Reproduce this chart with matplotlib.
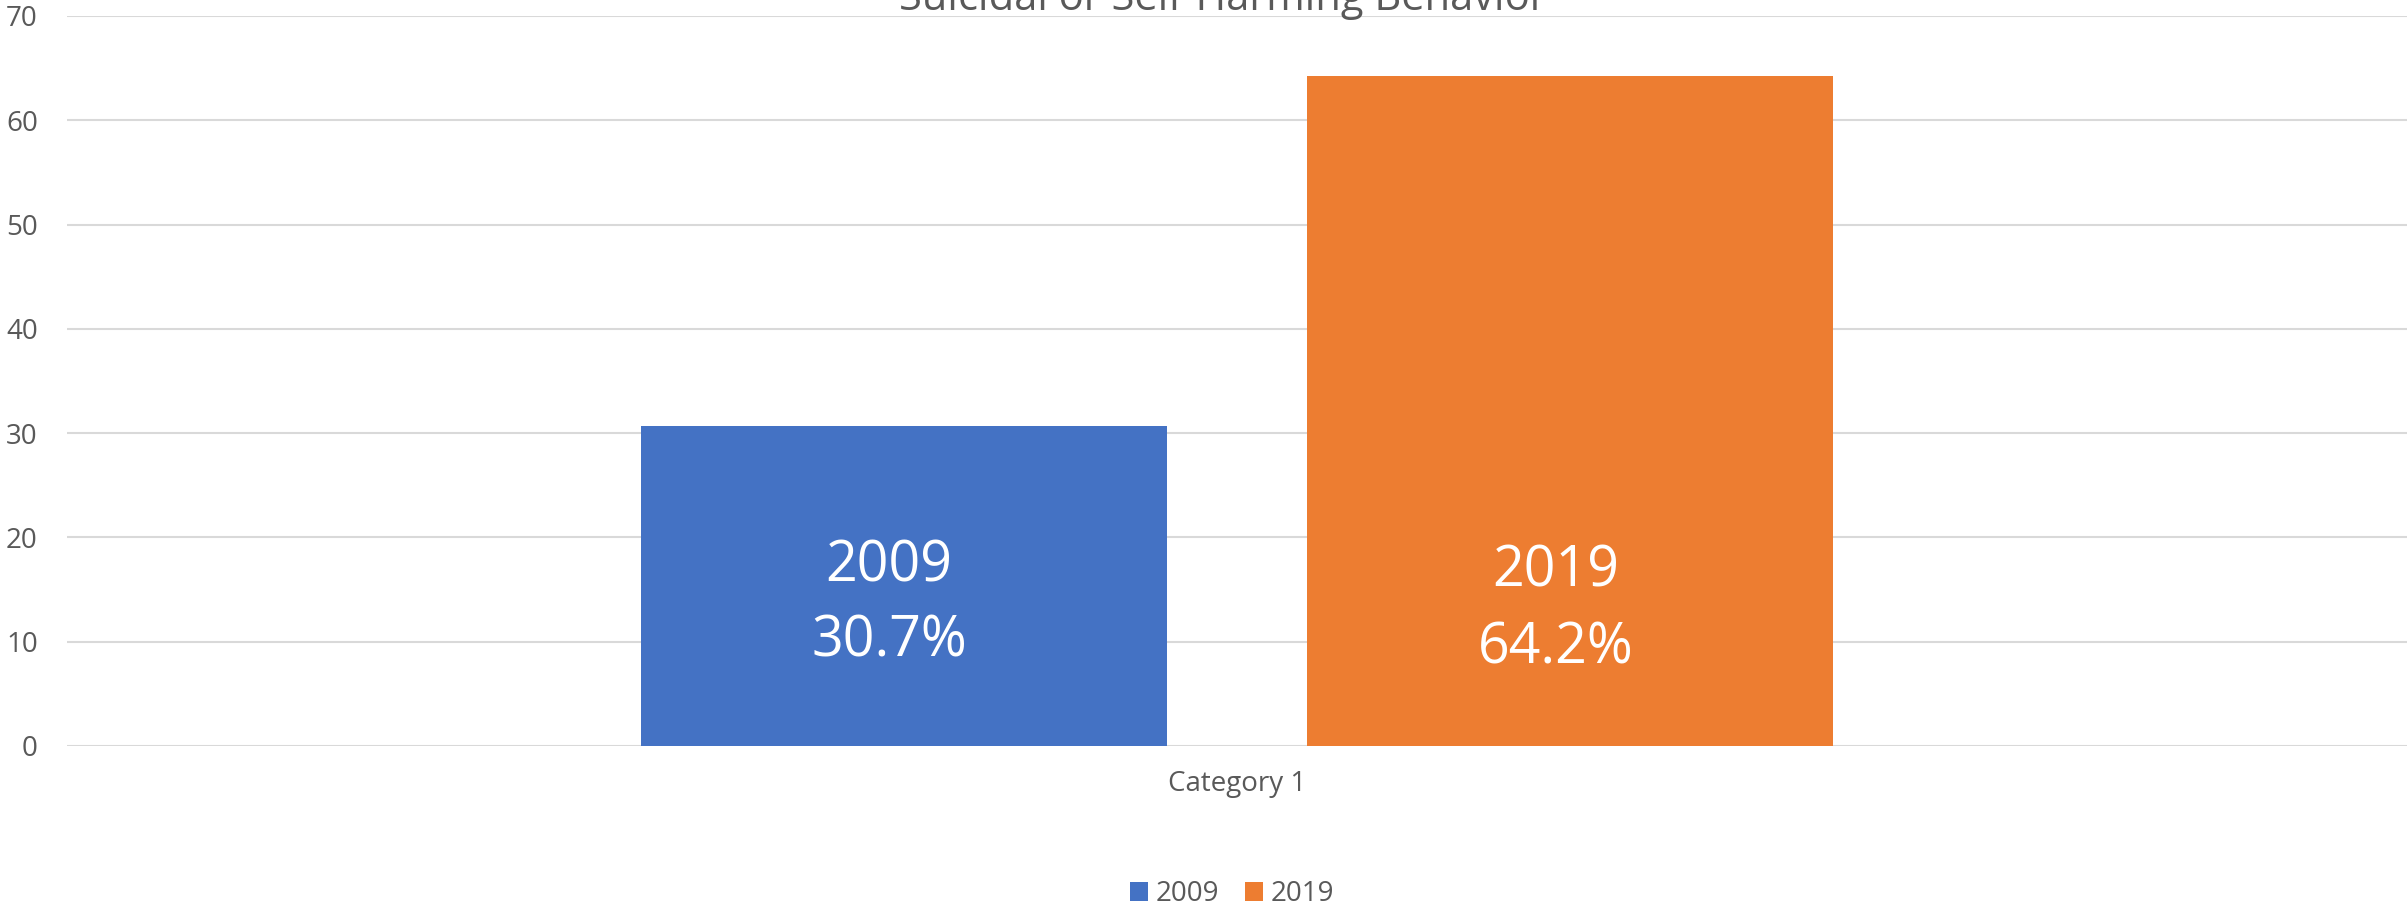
import matplotlib.pyplot as plt
from matplotlib.patches import Patch

plt.rcParams['font.family'] = ['Open Sans', 'DejaVu Sans']

# survey results, one category, two years
categories = ['Category 1']
years = ['2009', '2019']
values = [30.7, 64.2]
colors = ['#4472C4', '#ED7D31']
yticks = [0, 10, 20, 30, 40, 50, 60, 70]

# baselines (data units) for the two label lines inside each bar
label_year_y = [15.8, 15.25]
label_pct_y = [8.55, 7.9]

text_color = '#595959'
grid_color = '#D9D9D9'

fig = plt.figure(figsize=(24.07, 9.09), dpi=100)
ax = fig.add_axes([67 / 2407, 1 - 746 / 909, 1 - 67 / 2407, (746 - 16) / 909])

offsets = [-0.1425, 0.1425]
width = 0.2248
label_shift = -0.0062
for i, (yr, v, c) in enumerate(zip(years, values, colors)):
    x = 0 + offsets[i]
    ax.bar(x, v, width=width, color=c, zorder=3)
    ax.text(x + label_shift, label_year_y[i], yr, ha='center', va='baseline',
            fontsize=40, color='white', zorder=4)
    ax.text(x + label_shift, label_pct_y[i], f'{v}%', ha='center', va='baseline',
            fontsize=40, color='white', zorder=4)

ax.set_xlim(-0.5, 0.5)
ax.set_ylim(0, 70)
ax.set_yticks(yticks)
ax.set_yticklabels([str(t) for t in yticks])
ax.set_xticks([0])
ax.set_xticklabels(categories)
ax.tick_params(axis='both', length=0, labelsize=20, labelcolor=text_color)
ax.tick_params(axis='y', pad=21)
ax.tick_params(axis='x', pad=17)
ax.yaxis.grid(True, color=grid_color, linewidth=1.5, zorder=0)
for s in ax.spines.values():
    s.set_visible(False)

fig.text(1223 / 2407, 1 - 10 / 909, 'Suicidal or Self-Harming Behavior',
         ha='center', va='baseline', fontsize=30, color=text_color)

handles = [Patch(facecolor=c, label=y) for y, c in zip(years, colors)]
fig.legend(handles=handles, loc='center', bbox_to_anchor=(1232 / 2407, 1 - 894 / 909),
           ncol=2, frameon=False, fontsize=20, labelcolor=text_color,
           handlelength=0.65, handleheight=0.65, handletextpad=0.3,
           columnspacing=0.9)

fig.savefig('out.png', dpi=100)
